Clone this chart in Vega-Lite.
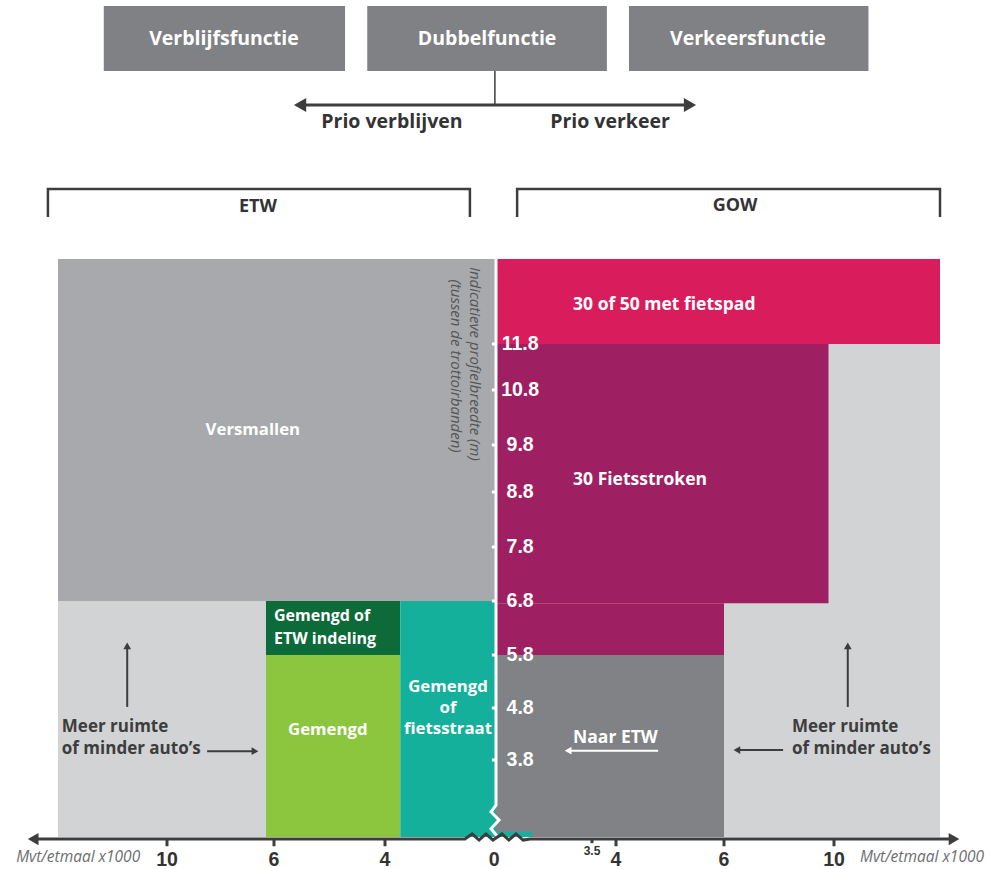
{
  "$schema": "https://vega.github.io/schema/vega-lite/v6.json",
  "width": 1004,
  "height": 869,
  "autosize": "none",
  "padding": 0,
  "background": "white",
  "config": {"view": {"stroke": null}, "font": "Open Sans"},
  "datasets": {
    "zones": [
      {"name": "Versmallen", "x": -12, "x2": 0, "y": 6.8, "y2": 13.5},
      {"name": "Meer ruimte", "x": -12, "x2": -6.3, "y": 2.3, "y2": 6.8},
      {"name": "Gemengd of ETW indeling", "x": -6.3, "x2": -3.45, "y": 5.8, "y2": 6.8},
      {"name": "Gemengd", "x": -6.3, "x2": -3.45, "y": 2.3, "y2": 5.8},
      {"name": "Gemengd of fietsstraat", "x": -3.45, "x2": 0, "y": 2.3, "y2": 6.8},
      {"name": "30 of 50 met fietspad", "x": 0, "x2": 12, "y": 11.8, "y2": 13.5},
      {"name": "Meer ruimte", "x": 6, "x2": 12, "y": 2.3, "y2": 11.8},
      {"name": "30 Fietsstroken", "x": 0, "x2": 9.8, "y": 6.76, "y2": 11.8},
      {"name": "30 Fietsstroken", "x": 0, "x2": 6, "y": 5.8, "y2": 6.76},
      {"name": "Naar ETW", "x": 0, "x2": 6, "y": 2.3, "y2": 5.8},
      {"name": "Gemengd of fietsstraat", "x": 0, "x2": 1.3, "y": 2.3, "y2": 2.4}
    ],
    "boxes": [
      {"x": -11.16, "x2": -4.72, "y": 17.26, "y2": 18.56},
      {"x": -4.32, "x2": 3.81, "y": 17.26, "y2": 18.56},
      {"x": 4.24, "x2": 10.65, "y": 17.26, "y2": 18.56}
    ],
    "zeroLine": [
      {"seq": 1, "x": 0, "y": 13.5},
      {"seq": 2, "x": 0, "y": 2.92},
      {"seq": 3, "x": -0.18, "y": 2.79},
      {"seq": 4, "x": 0.11, "y": 2.63},
      {"seq": 5, "x": -0.18, "y": 2.46},
      {"seq": 6, "x": 0.07, "y": 2.3}
    ],
    "yTicks": [
      {"x": -0.15, "x2": 0, "y": 3.8, "y2": 3.8},
      {"x": -0.15, "x2": 0, "y": 4.8, "y2": 4.8},
      {"x": -0.15, "x2": 0, "y": 5.8, "y2": 5.8},
      {"x": -0.15, "x2": 0, "y": 6.8, "y2": 6.8},
      {"x": -0.15, "x2": 0, "y": 7.8, "y2": 7.8},
      {"x": -0.15, "x2": 0, "y": 8.8, "y2": 8.8},
      {"x": -0.15, "x2": 0, "y": 9.8, "y2": 9.8},
      {"x": -0.15, "x2": 0, "y": 10.8, "y2": 10.8},
      {"x": -0.15, "x2": 0, "y": 11.8, "y2": 11.8}
    ],
    "yLabels": [
      {"x": 0.88, "y": 3.8, "label": "3.8"},
      {"x": 0.88, "y": 4.8, "label": "4.8"},
      {"x": 0.88, "y": 5.8, "label": "5.8"},
      {"x": 0.88, "y": 6.8, "label": "6.8"},
      {"x": 0.88, "y": 7.8, "label": "7.8"},
      {"x": 0.88, "y": 8.8, "label": "8.8"},
      {"x": 0.88, "y": 9.8, "label": "9.8"},
      {"x": 0.88, "y": 10.8, "label": "10.8"},
      {"x": 0.88, "y": 11.8, "label": "11.8"}
    ],
    "axisLine": [
      {"seq": 1, "x": -13.6, "y": 2.26},
      {"seq": 2, "x": -1.12, "y": 2.26},
      {"seq": 3, "x": -0.86, "y": 2.36},
      {"seq": 4, "x": -0.61, "y": 2.24},
      {"seq": 5, "x": -0.36, "y": 2.36},
      {"seq": 6, "x": -0.11, "y": 2.24},
      {"seq": 7, "x": 0.22, "y": 2.36},
      {"seq": 8, "x": 0.47, "y": 2.24},
      {"seq": 9, "x": 0.73, "y": 2.36},
      {"seq": 10, "x": 0.99, "y": 2.24},
      {"seq": 11, "x": 1.24, "y": 2.26},
      {"seq": 12, "x": 12.7, "y": 2.26}
    ],
    "axisTicks": [
      {"x": -10, "x2": -10, "y": 2.26, "y2": 2.12},
      {"x": -6, "x2": -6, "y": 2.26, "y2": 2.12},
      {"x": -4, "x2": -4, "y": 2.26, "y2": 2.12},
      {"x": 3.5, "x2": 3.5, "y": 2.26, "y2": 2.18},
      {"x": 4, "x2": 4, "y": 2.26, "y2": 2.12},
      {"x": 6, "x2": 6, "y": 2.26, "y2": 2.12},
      {"x": 10, "x2": 10, "y": 2.26, "y2": 2.12}
    ],
    "axisLabels": [
      {"x": -10, "y": 1.85, "label": "10"},
      {"x": -6, "y": 1.85, "label": "6"},
      {"x": -4, "y": 1.85, "label": "4"},
      {"x": -0.07, "y": 1.85, "label": "0"},
      {"x": 4, "y": 1.85, "label": "4"},
      {"x": 6, "y": 1.85, "label": "6"},
      {"x": 10, "y": 1.85, "label": "10"}
    ],
    "smallLabels": [
      {"x": 3.5, "y": 2.03, "label": "3.5"}
    ],
    "axisTitles": [
      {"x": -11.63, "y": 1.91, "label": "Mvt/etmaal x1000"},
      {"x": 11.66, "y": 1.91, "label": "Mvt/etmaal x1000"}
    ],
    "headerArrow": [
      {"x": -5.5, "x2": 5.35, "y": 16.58, "y2": 16.58}
    ],
    "connector": [
      {"x": -0.04, "x2": -0.04, "y": 16.58, "y2": 17.26}
    ],
    "headerHeads": [
      {"x": -5.53, "y": 16.58, "dir": "left"},
      {"x": 5.37, "y": 16.58, "dir": "right"}
    ],
    "axisHeads": [
      {"x": -13.6, "y": 2.26, "dir": "left"},
      {"x": 12.7, "y": 2.26, "dir": "right"}
    ],
    "darkArrows": [
      {"x": -10.73, "x2": -10.73, "y": 4.82, "y2": 5.95},
      {"x": -8.5, "x2": -6.75, "y": 3.97, "y2": 3.97},
      {"x": 10.26, "x2": 10.26, "y": 4.82, "y2": 5.95},
      {"x": 8.15, "x2": 6.5, "y": 3.99, "y2": 3.99}
    ],
    "darkHeads": [
      {"x": -10.73, "y": 5.97, "dir": "up"},
      {"x": -6.71, "y": 3.97, "dir": "right"},
      {"x": 10.26, "y": 5.97, "dir": "up"},
      {"x": 6.47, "y": 3.99, "dir": "left"}
    ],
    "whiteArrow": [
      {"x": 4.78, "x2": 2.62, "y": 3.98, "y2": 3.98}
    ],
    "whiteHeads": [
      {"x": 2.63, "y": 3.98, "dir": "left"}
    ],
    "brackets": [
      {"id": "ETW", "seq": 1, "x": -12.65, "y": 14.34},
      {"id": "ETW", "seq": 2, "x": -12.65, "y": 14.9},
      {"id": "ETW", "seq": 3, "x": -0.94, "y": 14.9},
      {"id": "ETW", "seq": 4, "x": -0.94, "y": 14.34},
      {"id": "GOW", "seq": 1, "x": 0.77, "y": 14.34},
      {"id": "GOW", "seq": 2, "x": 0.77, "y": 14.9},
      {"id": "GOW", "seq": 3, "x": 12, "y": 14.9},
      {"id": "GOW", "seq": 4, "x": 12, "y": 14.34}
    ],
    "boxLabels": [
      {"x": -7.87, "y": 17.9, "label": "Verblijfsfunctie"},
      {"x": -0.32, "y": 17.9, "label": "Dubbelfunctie"},
      {"x": 6.87, "y": 17.9, "label": "Verkeersfunctie"}
    ],
    "prioLabels": [
      {"x": -3.75, "y": 16.24, "label": "Prio verblijven"},
      {"x": 3.875, "y": 16.24, "label": "Prio verkeer"}
    ],
    "sideLabels": [
      {"x": -6.6, "y": 14.54, "label": "ETW"},
      {"x": 6.4, "y": 14.57, "label": "GOW"}
    ],
    "centerLabels": [
      {"x": -6.79, "y": 10.07, "label": "Versmallen"},
      {"x": -5.03, "y": 4.38, "label": "Gemengd"},
      {"x": -1.73, "y": 5.2, "label": "Gemengd"},
      {"x": -1.73, "y": 4.8, "label": "of"},
      {"x": -1.73, "y": 4.4, "label": "fietsstraat"}
    ],
    "stackedLabels": [
      {"x": -6.0, "y": 6.52, "label": "Gemengd of"},
      {"x": -6.0, "y": 6.09, "label": "ETW indeling"}
    ],
    "leftLabels": [
      {"x": 2.81, "y": 12.58, "label": "30 of 50 met fietspad"},
      {"x": 2.81, "y": 9.06, "label": "30 Fietsstroken"},
      {"x": 2.81, "y": 4.22, "label": "Naar ETW"}
    ],
    "darkLabels": [
      {"x": -11.93, "y": 4.43, "label": "Meer ruimte"},
      {"x": -11.93, "y": 4.01, "label": "of minder auto’s"},
      {"x": 8.47, "y": 4.43, "label": "Meer ruimte"},
      {"x": 8.47, "y": 4.01, "label": "of minder auto’s"}
    ],
    "yTitle": [
      {"x": -0.76, "y": 11.37, "label": "Indicatieve profielbreedte (m)"},
      {"x": -1.44, "y": 11.32, "label": "(tussen de trottoirbanden)"}
    ]
  },
  "encoding": {
    "x": {
      "field": "x",
      "type": "quantitative",
      "axis": null,
      "scale": {
        "domain": [-14, -12, -10, -6, -4, 0, 3.5, 4, 6, 10, 12, 13],
        "range": [27, 58, 167, 274, 385, 496, 592, 616, 724, 834, 940, 960],
        "nice": false,
        "zero": false
      }
    },
    "y": {
      "field": "y",
      "type": "quantitative",
      "axis": null,
      "scale": {
        "domain": [2.3, 3.8, 4.8, 5.8, 6.8, 7.8, 8.8, 9.8, 10.8, 11.8, 13.5],
        "range": [837, 760, 708, 655, 601, 547, 492, 445, 390, 344, 259],
        "nice": false,
        "zero": false
      }
    }
  },
  "layer": [
    {
      "data": {"name": "zones"},
      "mark": {"type": "rect", "strokeWidth": 0},
      "encoding": {
        "x2": {"field": "x2"},
        "y2": {"field": "y2"},
        "color": {
          "field": "name",
          "type": "nominal",
          "legend": null,
          "scale": {
            "domain": ["Versmallen", "Meer ruimte", "Gemengd of ETW indeling", "Gemengd", "Gemengd of fietsstraat", "30 of 50 met fietspad", "30 Fietsstroken", "Naar ETW"],
            "range": ["#a7a9ac", "#d1d3d4", "#0d6a39", "#8cc63f", "#15b09b", "#d91c5c", "#9e1f62", "#808285"]
          }
        }
      }
    },
    {
      "data": {"name": "boxes"},
      "mark": {"type": "rect", "color": "#808184", "strokeWidth": 0},
      "encoding": {"x2": {"field": "x2"}, "y2": {"field": "y2"}}
    },
    {
      "data": {"name": "zeroLine"},
      "mark": {"type": "line", "color": "white", "strokeWidth": 3},
      "encoding": {"order": {"field": "seq"}}
    },
    {
      "data": {"name": "yTicks"},
      "mark": {"type": "rule", "color": "white", "strokeWidth": 3},
      "encoding": {"x2": {"field": "x2"}, "y2": {"field": "y2"}}
    },
    {
      "data": {"name": "yLabels"},
      "mark": {"type": "text", "font": "Liberation Sans", "fontWeight": "bold", "fontSize": 19.5, "color": "white", "align": "center", "baseline": "middle"},
      "encoding": {"text": {"field": "label"}}
    },
    {
      "data": {"name": "axisLine"},
      "mark": {"type": "line", "color": "#3d3d3d", "strokeWidth": 3},
      "encoding": {"order": {"field": "seq"}}
    },
    {
      "data": {"name": "axisTicks"},
      "mark": {"type": "rule", "color": "#3d3d3d", "strokeWidth": 3},
      "encoding": {"x2": {"field": "x2"}, "y2": {"field": "y2"}}
    },
    {
      "data": {"name": "axisLabels"},
      "mark": {"type": "text", "font": "Liberation Sans", "fontWeight": "bold", "fontSize": 19.5, "color": "#333333", "align": "center", "baseline": "middle"},
      "encoding": {"text": {"field": "label"}}
    },
    {
      "data": {"name": "smallLabels"},
      "mark": {"type": "text", "font": "Liberation Sans", "fontWeight": "bold", "fontSize": 12, "color": "#333333", "align": "center", "baseline": "middle"},
      "encoding": {"text": {"field": "label"}}
    },
    {
      "data": {"name": "axisTitles"},
      "mark": {"type": "text", "fontStyle": "italic", "fontSize": 15.5, "color": "#6d6e71", "align": "center", "baseline": "middle"},
      "encoding": {"text": {"field": "label"}}
    },
    {
      "data": {"name": "headerArrow"},
      "mark": {"type": "rule", "color": "#3d3d3d", "strokeWidth": 3},
      "encoding": {"x2": {"field": "x2"}, "y2": {"field": "y2"}}
    },
    {
      "data": {"name": "connector"},
      "mark": {"type": "rule", "color": "#3d3d3d", "strokeWidth": 1.5},
      "encoding": {"x2": {"field": "x2"}, "y2": {"field": "y2"}}
    },
    {
      "data": {"name": "headerHeads"},
      "mark": {"type": "point", "filled": true, "opacity": 1, "color": "#3d3d3d", "size": 200},
      "encoding": {
        "shape": {"field": "dir", "type": "nominal", "legend": null, "scale": {"domain": ["left", "right", "up"], "range": ["triangle-left", "triangle-right", "triangle-up"]}}
      }
    },
    {
      "data": {"name": "axisHeads"},
      "mark": {"type": "point", "filled": true, "opacity": 1, "color": "#3d3d3d", "size": 150},
      "encoding": {
        "shape": {"field": "dir", "type": "nominal", "legend": null, "scale": {"domain": ["left", "right", "up"], "range": ["triangle-left", "triangle-right", "triangle-up"]}}
      }
    },
    {
      "data": {"name": "darkArrows"},
      "mark": {"type": "rule", "color": "#3d3d3d", "strokeWidth": 2},
      "encoding": {"x2": {"field": "x2"}, "y2": {"field": "y2"}}
    },
    {
      "data": {"name": "darkHeads"},
      "mark": {"type": "point", "filled": true, "opacity": 1, "color": "#3d3d3d", "size": 60},
      "encoding": {
        "shape": {"field": "dir", "type": "nominal", "legend": null, "scale": {"domain": ["left", "right", "up"], "range": ["triangle-left", "triangle-right", "triangle-up"]}}
      }
    },
    {
      "data": {"name": "whiteArrow"},
      "mark": {"type": "rule", "color": "white", "strokeWidth": 2},
      "encoding": {"x2": {"field": "x2"}, "y2": {"field": "y2"}}
    },
    {
      "data": {"name": "whiteHeads"},
      "mark": {"type": "point", "filled": true, "opacity": 1, "color": "white", "size": 60},
      "encoding": {
        "shape": {"field": "dir", "type": "nominal", "legend": null, "scale": {"domain": ["left", "right", "up"], "range": ["triangle-left", "triangle-right", "triangle-up"]}}
      }
    },
    {
      "data": {"name": "brackets"},
      "mark": {"type": "line", "color": "#3d3d3d", "strokeWidth": 2.5},
      "encoding": {"detail": {"field": "id"}, "order": {"field": "seq"}}
    },
    {
      "data": {"name": "boxLabels"},
      "mark": {"type": "text", "fontWeight": "bold", "fontSize": 19.5, "color": "white", "align": "center", "baseline": "middle"},
      "encoding": {"text": {"field": "label"}}
    },
    {
      "data": {"name": "prioLabels"},
      "mark": {"type": "text", "fontWeight": "bold", "fontSize": 19.5, "color": "#333333", "align": "center", "baseline": "middle"},
      "encoding": {"text": {"field": "label"}}
    },
    {
      "data": {"name": "sideLabels"},
      "mark": {"type": "text", "fontWeight": "bold", "fontSize": 18, "color": "#333333", "align": "center", "baseline": "middle"},
      "encoding": {"text": {"field": "label"}}
    },
    {
      "data": {"name": "centerLabels"},
      "mark": {"type": "text", "fontWeight": "bold", "fontSize": 16.8, "color": "white", "align": "center", "baseline": "middle"},
      "encoding": {"text": {"field": "label"}}
    },
    {
      "data": {"name": "stackedLabels"},
      "mark": {"type": "text", "fontWeight": "bold", "fontSize": 16, "color": "white", "align": "left", "baseline": "middle"},
      "encoding": {"text": {"field": "label"}}
    },
    {
      "data": {"name": "leftLabels"},
      "mark": {"type": "text", "fontWeight": "bold", "fontSize": 17.5, "color": "white", "align": "left", "baseline": "middle"},
      "encoding": {"text": {"field": "label"}}
    },
    {
      "data": {"name": "darkLabels"},
      "mark": {"type": "text", "fontWeight": "bold", "fontSize": 17, "color": "#3d3d3d", "align": "left", "baseline": "middle"},
      "encoding": {"text": {"field": "label"}}
    },
    {
      "data": {"name": "yTitle"},
      "mark": {"type": "text", "fontStyle": "italic", "fontSize": 15, "color": "#555555", "align": "center", "baseline": "middle", "angle": 90},
      "encoding": {"text": {"field": "label"}}
    }
  ]
}
